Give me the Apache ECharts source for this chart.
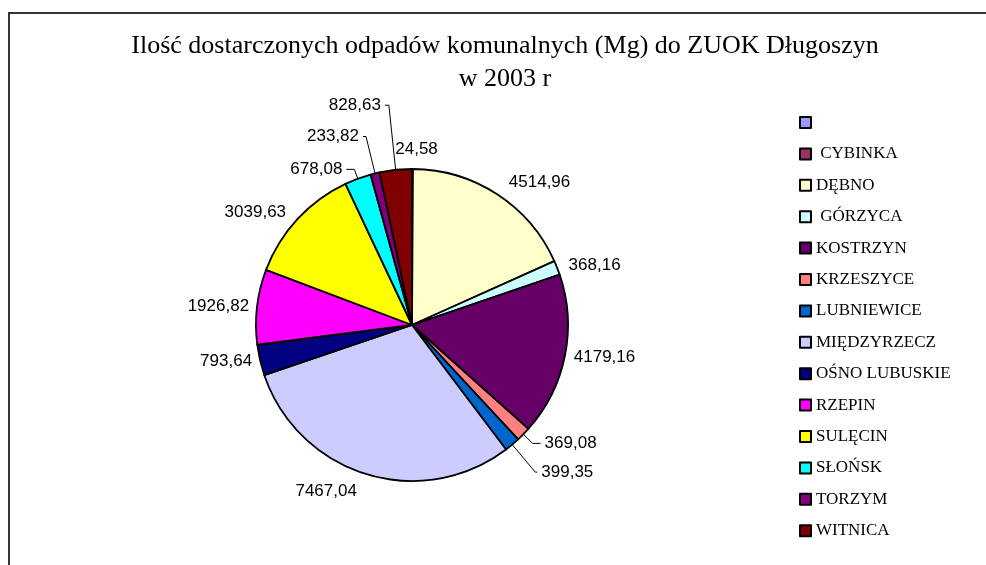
<!DOCTYPE html>
<html>
<head>
<meta charset="utf-8">
<style>
html, body { margin: 0; padding: 0; background: #fff; }
#chart { width: 986px; height: 565px; }
</style>
<script src="https://cdn.jsdelivr.net/npm/echarts@6/dist/echarts.min.js"></script>
</head>
<body>
<div id="chart"></div>
<script>
// gminy (legend order = slice order, clockwise from 12 o'clock)
const gminy = [' ', ' CYBINKA', 'DĘBNO', ' GÓRZYCA', 'KOSTRZYN', 'KRZESZYCE', 'LUBNIEWICE',
    'MIĘDZYRZECZ', 'OŚNO LUBUSKIE', 'RZEPIN', 'SULĘCIN', 'SŁOŃSK', 'TORZYM', 'WITNICA'];
// Mg in 2003
const odpady = [0, 24.58, 4514.96, 368.16, 4179.16, 369.08, 399.35,
    7467.04, 793.64, 1926.82, 3039.63, 678.08, 233.82, 828.63];
const kolory = ['#9999FF', '#993366', '#FFFFCC', '#CCFFFF', '#660066', '#FF8080', '#0066CC',
    '#CCCCFF', '#000080', '#FF00FF', '#FFFF00', '#00FFFF', '#800080', '#800000'];

// leader lines: [length, length2, visible]
const leaders = {
    ' CYBINKA': [20, 0, false],
    'DĘBNO': [14, 0, false],
    ' GÓRZYCA': [8, 0, false],
    'KOSTRZYN': [5, 0, false],
    'KRZESZYCE': [13, 8, true],
    'LUBNIEWICE': [36, 2, true],
    'MIĘDZYRZECZ': [18, 0, false],
    'OŚNO LUBUSKIE': [4, 0, false],
    'RZEPIN': [4, 0, false],
    'SULĘCIN': [10, 0, false],
    'SŁOŃSK': [10, 8, true],
    'TORZYM': [38, 3, true],
    'WITNICA': [65, 4, true]
};

const chart = echarts.init(document.getElementById('chart'));

const pieData = gminy.map(function (name, i) {
    const item = { name: name, value: odpady[i], itemStyle: { color: kolory[i] } };
    const l = leaders[name];
    if (l) {
        item.labelLine = { length: l[0], length2: l[1], show: l[2] };
    } else {
        item.label = { show: false };
        item.labelLine = { show: false };
    }
    return item;
});

const option = {
    animation: false,
    title: {
        text: 'Ilość dostarczonych odpadów komunalnych (Mg) do ZUOK Długoszyn\nw 2003 r',
        left: 505,
        top: 30,
        padding: 0,
        textAlign: 'center',
        textStyle: {
            fontFamily: 'Liberation Serif',
            fontSize: 26,
            fontWeight: 'normal',
            color: '#000',
            lineHeight: 33
        }
    },
    legend: {
        orient: 'vertical',
        left: 799,
        top: 114,
        padding: 0,
        icon: 'rect',
        itemWidth: 11,
        itemHeight: 11,
        itemGap: 14.4,
        selectedMode: false,
        itemStyle: { borderColor: '#000', borderWidth: 2 },
        textStyle: { fontFamily: 'Liberation Serif', fontSize: 17, color: '#000', lineHeight: 17 }
    },
    graphic: [{
        type: 'polyline',
        shape: { points: [[9, 565], [9, 13], [986, 13]] },
        style: { stroke: '#333', lineWidth: 2, fill: null }
    }],
    series: [{
        type: 'pie',
        center: [412, 325],
        radius: 156,
        startAngle: 90,
        clockwise: true,
        avoidLabelOverlap: false,
        data: pieData,
        itemStyle: { borderColor: '#000', borderWidth: 1.8 },
        label: {
            position: 'outside',
            distanceToLabelLine: 4,
            fontFamily: 'Liberation Sans',
            fontSize: 17,
            color: '#000',
            formatter: function (p) { return p.value.toFixed(2).replace('.', ','); }
        },
        labelLine: { lineStyle: { color: '#000', width: 1 } },
        labelLayout: function (p) {
            if (p.dataIndex === 1) return { align: 'center' };
        },
        emphasis: { disabled: true }
    }]
};

chart.setOption(option);
</script>
</body>
</html>
